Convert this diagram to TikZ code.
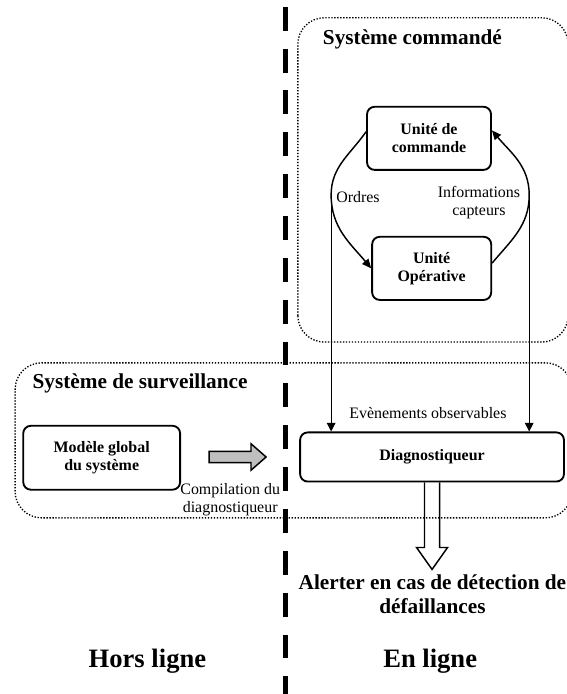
\documentclass[tikz,border=0pt]{standalone}
\usepackage{fontspec}
\setmainfont{Liberation Serif}
\usetikzlibrary{arrows.meta}

\begin{document}
\begin{tikzpicture}[font=\fontsize{12}{13.5}\selectfont,
bloc/.style={draw, line width=1.4pt, rounded corners=0.2cm, align=center, font=\fontsize{12}{13.5}\selectfont\bfseries},
zone/.style={line width=1pt, dash pattern=on 1pt off 1.25pt, rounded corners=0.7cm},
titre/.style={font=\fontsize{16}{18}\selectfont\bfseries},
lien/.style={line width=1.1pt, -{Triangle[length=7pt, width=6pt]}},
fleche/.style={line width=0.9pt, -{Triangle[length=6.5pt, width=6.5pt]}}]

\useasboundingbox (0,0) rectangle (15.0,18.36);

%Separation
\draw[line width=3.75pt, dash pattern=on 18pt off 13.5pt] (7.55,18.18) -- (7.55,-0.5);

%Systeme commande
\draw[zone] (7.88,9.31) rectangle (15.03,17.89);
\node[titre, anchor=base west] (tcmd) at (8.42,17.17) {Système commandé};
\node[bloc, minimum width=3.28cm, minimum height=1.67cm] (uc) at (11.35,14.70) {Unité de\\commande};
\node[bloc, minimum width=3.15cm, minimum height=1.67cm] (uo) at (11.42,11.26) {Unité\\Opérative};

\coordinate (ordres) at (8.76,13.20);
\coordinate (infos) at (14.00,13.20);
\draw[lien] ([yshift=5pt]uc.west) to[out=235, in=90] (ordres) to[out=-90, in=130] (uo.west);
\draw[lien] ([yshift=4pt]uo.east) to[out=50, in=-90] (infos) to[out=90, in=-50] ([yshift=6pt]uc.east);
\node (lordres) at (9.47,13.15) {Ordres};
\node[align=center] (linfos) at (12.67,12.99) {Informations\\capteurs};

%Systeme de surveillance
\draw[zone] (0.40,4.66) rectangle (15.13,8.76);
\node[titre, anchor=base west] (tsurv) at (0.74,8.09) {Système de surveillance};
\node[bloc, minimum width=4.15cm, minimum height=1.69cm] (modele) at (2.69,6.25) {Modèle global\\du système};
\node[bloc, minimum width=6.98cm, minimum height=1.3cm] (diag) at (11.43,6.27) {Diagnostiqueur};
\node (levt) at (11.32,7.43) {Evènements observables};
\draw[fleche] (ordres) -- (ordres |- diag.north);
\draw[fleche] (infos) -- (infos |- diag.north);

%Compilation
\coordinate (comp) at (5.53,6.27);
\draw[line width=1.1pt, fill=gray!50] ([yshift=0.15cm]comp) -- ++(1.11,0) -- ++(0,0.2) -- ++(0.4,-0.35) -- ++(-0.4,-0.35) -- ++(0,0.2) -- ++(-1.11,0) -- cycle;
\node[align=center] (lcomp) at (6.09,5.13) {Compilation du\\diagnostiqueur};

%Alerte
\draw[line width=1.1pt] ([xshift=-0.2cm]diag.south) -- ++(0,-1.72) -- ++(-0.21,0) -- ++(0.41,-0.58) -- ++(0.41,0.58) -- ++(-0.21,0) -- ++(0,1.72);
\node[titre, align=center] (alerte) at (11.44,2.65) {Alerter en cas de détection de\\défaillances};

\node[font=\fontsize{20}{24}\selectfont\bfseries, anchor=base] (hors) at (3.90,0.71) {Hors ligne};
\node[font=\fontsize{20}{24}\selectfont\bfseries, anchor=base] (enligne) at (11.38,0.71) {En ligne};
\end{tikzpicture}
\end{document}
